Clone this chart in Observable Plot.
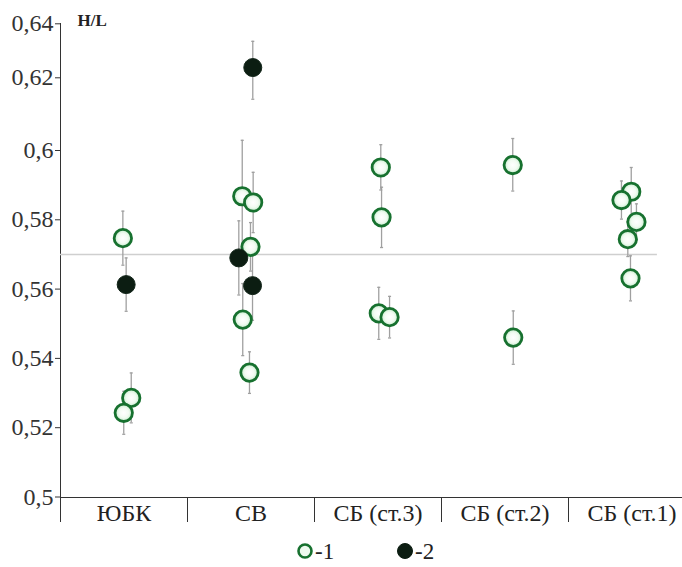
<!DOCTYPE html>
<html><head><meta charset="utf-8">
<script src="https://cdn.jsdelivr.net/npm/d3@7"></script>
<script src="https://cdn.jsdelivr.net/npm/@observablehq/plot@0.6"></script>
<style>
body{margin:0;background:#fff;}
#legend{height:37px;}
</style></head><body>
<div id="chart"></div>
<div id="legend"></div>
<script>
// Categories on the x axis
const categories = ["ЮБК", "СВ", "СБ (ст.3)", "СБ (ст.2)", "СБ (ст.1)"];
// Per-point data (group index, series 1 = open green, 2 = filled black)
const groupIdx = [0,0,0,0, 1,1,1,1,1,1,1,1, 2,2,2,2, 3,3, 4,4,4,4,4];
const seriesId = [1,2,1,1, 2,1,1,1,2,2,1,1, 1,1,1,1, 1,1, 1,1,1,1,1];
const hlValues = [0.5747,0.5613,0.5286,0.5243,
                  0.6238,0.5868,0.5850,0.5722,0.5690,0.5610,0.5512,0.5359,
                  0.5951,0.5807,0.5530,0.5519,
                  0.5958,0.5460,
                  0.5881,0.5857,0.5794,0.5744,0.5631];
const hlErrors = [0.0078,0.0077,0.0072,0.0062,
                  0.0097,0.0160,0.0087,0.0070,0.0107,0.0100,0.0104,0.0060,
                  0.0065,0.0087,0.0075,0.0060,
                  0.0075,0.0077,
                  0.0070,0.0055,0.0052,0.0050,0.0065];
// horizontal scatter of points within their category (in category units)
const jitter = [-0.009,0.017,0.057,-0.002,
                0.014,-0.069,0.017,-0.004,-0.096,0.012,-0.065,-0.012,
                0.022,0.028,0.006,0.091,
                0.061,0.065,
                -0.006,-0.083,0.035,-0.033,-0.012];
const yTicks = [0.5,0.52,0.54,0.56,0.58,0.6,0.62,0.64];
const refLine = 0.570;
const refLineEnd = 4.70;
const legendLabels = ["-1", "-2"];

const FONT = "'Liberation Serif'";

const data = hlValues.map((v, i) => ({
  x: groupIdx[i] + 0.5 + jitter[i],
  y: v, lo: v - hlErrors[i], hi: v + hlErrors[i], s: seriesId[i]
}));
const fmt = d => String(d).replace(".", ",");

const gradient = () => {
  const defs = d3.create("svg:defs");
  const g = defs.append("radialGradient").attr("id", "gfill");
  g.append("stop").attr("offset", "0%").attr("stop-color", "#ffffff");
  g.append("stop").attr("offset", "55%").attr("stop-color", "#f2fbf2");
  g.append("stop").attr("offset", "100%").attr("stop-color", "#c3ecca");
  return defs.node();
};

const chart = Plot.plot({
  width: 682, height: 530,
  marginLeft: 60, marginTop: 23, marginBottom: 33, marginRight: 0,
  style: {fontSize: "24px", color: "#333", background: "#fff"},
  x: {type: "linear", domain: [0, 5], range: [60, 695], ticks: [0, 1, 2, 3, 4], tickSize: 25,
      tickFormat: () => "", line: true, label: null},
  y: {type: "linear", domain: [0.5, 0.6, 0.62, 0.64], range: [496.5, 150, 77.3, 23.3],
      ticks: yTicks, tickFormat: fmt, tickSize: 5, tickPadding: 2, line: true, label: null},
  marks: [
    gradient,
    Plot.ruleY([refLine], {x1: 0, x2: refLineEnd, stroke: "#cfcfcf", strokeWidth: 1.6}),
    Plot.ruleX(data, {x: "x", y1: "lo", y2: "hi", stroke: "#a0a0a0", strokeWidth: 1.3}),
    Plot.link(data, {x1: d => d.x - 0.012, x2: d => d.x + 0.012, y1: "hi", y2: "hi", stroke: "#a0a0a0", strokeWidth: 1.3}),
    Plot.link(data, {x1: d => d.x - 0.012, x2: d => d.x + 0.012, y1: "lo", y2: "lo", stroke: "#a0a0a0", strokeWidth: 1.3}),
    Plot.dot(data.filter(d => d.s === 1), {x: "x", y: "y", r: 8.7, fill: "url(#gfill)", stroke: "#17712f", strokeWidth: 2.8}),
    Plot.dot(data.filter(d => d.s === 2), {x: "x", y: "y", r: 9, fill: "#0c1d12", stroke: "#13261a", strokeWidth: 1}),
    Plot.text(categories, {x: (d, i) => i + 0.5, y: () => 0.5, dy: 16, text: d => d, fontSize: 24, fill: "#222", lineAnchor: "middle"}),
    Plot.text(["H/L"], {frameAnchor: "top-left", dx: 17, dy: -3, textAnchor: "start", lineAnchor: "middle",
                        fontWeight: "bold", fontSize: 17, fill: "#222"})
  ]
});
// use the serif face on every text node of the chart
d3.select(chart).attr("font-family", FONT).style("font-family", FONT);
d3.select(chart).selectAll("g, text").attr("font-family", FONT);
document.getElementById("chart").appendChild(chart);

// Legend below the plot
const leg = d3.select("#legend").append("svg").attr("width", 682).attr("height", 37);
const items = [
  {cx: 305, fill: "#eefaef", stroke: "#17712f", sw: 2.6, r: 6.5, label: legendLabels[0]},
  {cx: 405, fill: "#0c1d12", stroke: "#0c1d12", sw: 1, r: 7.5, label: legendLabels[1]}
];
for (const it of items) {
  leg.append("circle").attr("cx", it.cx).attr("cy", 21).attr("r", it.r)
     .attr("fill", it.fill).attr("stroke", it.stroke).attr("stroke-width", it.sw);
  leg.append("text").attr("x", it.cx + 10).attr("y", 29).text(it.label)
     .attr("font-family", FONT).attr("font-size", 23).attr("fill", "#222");
}
</script>
</body></html>
